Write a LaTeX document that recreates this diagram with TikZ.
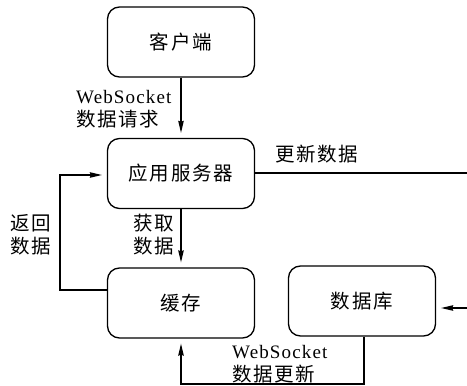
\documentclass[tikz,border=0pt]{standalone}
\usepackage{fontspec}
\setmainfont{Liberation Serif}[LetterSpace=6]
\newfontfamily\cjk{Noto Sans CJK SC}[LetterSpace=9]
\usetikzlibrary{arrows.meta}
\begin{document}
\begin{tikzpicture}[x=1pt,y=-1pt,
  box/.style={draw, line width=1.3pt, rounded corners=12pt, minimum width=147pt,
    minimum height=70pt, inner sep=0pt, font=\cjk\fontsize{19.5}{22}\selectfont},
  lbl/.style={inner sep=0pt, align=left, anchor=base west, font=\fontsize{19}{23}\selectfont},
  cjklbl/.style={lbl, font=\cjk\fontsize{19.5}{23}\selectfont},
  conn/.style={line width=1.1pt},
  arr/.style={conn, -{Stealth[length=12pt,width=5.5pt,inset=1pt]}, shorten >=5pt}]
\useasboundingbox (0,0) rectangle (467,386);
\node[box] (client) at (181,42) {客户端};
\node[box] (server) at (181,173.5) {应用服务器};
\node[box] (cache) at (181,303) {缓存};
\node[box] (db) at (362,301) {数据库};
\coordinate (loopb) at (60,290);
\coordinate (loopt) at (60,175);
\coordinate (rout) at (467,173);
\coordinate (rin) at (467,308);
\coordinate (bot) at (364,384);
% connectors
\draw[arr] (client.south) -- (server.north);
\draw[arr] (server.south) -- (cache.north);
\draw[arr] (loopb -| cache.west) -- (loopb) -- (loopt) -- (loopt -| server.west);
\draw[conn] (rout -| server.east) -- (rout);
\draw[arr] (rin) -- (rin -| db.east);
\draw[arr] (bot |- db.south) -- (bot) -| (cache.south);
% labels (base anchor = baseline of last line)
\node[lbl] (l1) at (76,126) {WebSocket\\{\cjk\fontsize{19.5}{23}\selectfont 数据请求}};
\node[cjklbl] (l2) at (133,253) {获取\\数据};
\node[cjklbl] (l3) at (10,253) {返回\\数据};
\node[cjklbl] (l4) at (275,161) {更新数据};
\node[lbl] (l5) at (232,381) {WebSocket\\{\cjk\fontsize{19.5}{23}\selectfont 数据更新}};
\end{tikzpicture}
\end{document}
